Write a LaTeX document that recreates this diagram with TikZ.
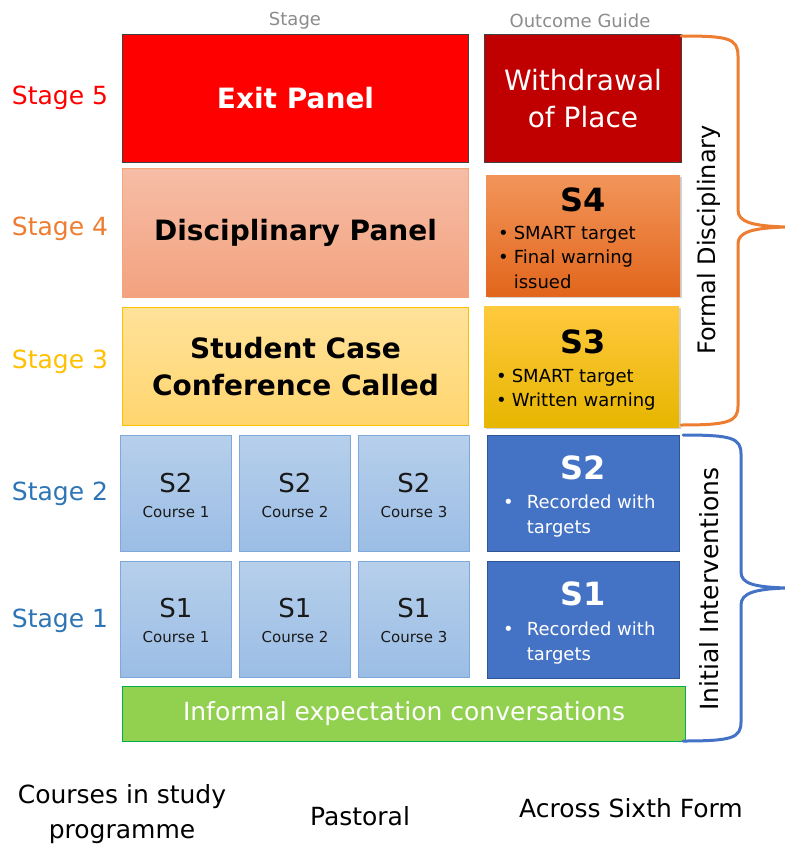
\documentclass[tikz,border=0pt]{standalone}
\usepackage{fontspec}
\setmainfont{DejaVu Sans}
\usetikzlibrary{shadows}
\definecolor{exitred}{HTML}{FF0000}
\definecolor{wdred}{HTML}{C00000}
\definecolor{st4}{HTML}{ED7D31}
\definecolor{st3}{HTML}{FFC000}
\definecolor{st2}{HTML}{2E75B6}
\definecolor{hdrgray}{HTML}{8C8C8C}
\definecolor{dpTop}{HTML}{F6BDA6}
\definecolor{dpBot}{HTML}{F3A27F}
\definecolor{dpBorder}{HTML}{F4A57A}
\definecolor{scTop}{HTML}{FFE29A}
\definecolor{scBot}{HTML}{FFD56E}
\definecolor{s4Top}{HTML}{F2955A}
\definecolor{s4Bot}{HTML}{E2661C}
\definecolor{s3Top}{HTML}{FFC93E}
\definecolor{s3Bot}{HTML}{E6B600}
\definecolor{cTop}{HTML}{B6CFEB}
\definecolor{cBot}{HTML}{9BBDE5}
\definecolor{cBorder}{HTML}{7EA9DA}
\definecolor{oblue}{HTML}{4472C4}
\definecolor{oblueB}{HTML}{2F5597}
\definecolor{grn}{HTML}{92D050}
\definecolor{grnB}{HTML}{00B050}
\definecolor{brOr}{HTML}{ED7D31}
\definecolor{brBl}{HTML}{4472C4}
\begin{document}
\begin{tikzpicture}[x=1pt,y=-1pt,
  box/.style={rectangle, inner sep=0pt, anchor=north west, align=center},
  stagelbl/.style={font=\fontsize{25}{30}\selectfont, inner sep=0pt},
  hdr/.style={font=\fontsize{18}{21}\selectfont, text=hdrgray, inner sep=0pt},
  bot/.style={font=\fontsize{25}{35}\selectfont, inner sep=0pt, align=center},
  boldbig/.style={font=\fontsize{28}{37}\selectfont\bfseries},
  course/.style={box, draw=cBorder, line width=1pt, top color=cTop, bottom color=cBot, minimum width=111pt, minimum height=116pt},
  cbig/.style={font=\fontsize{26}{30}\selectfont, inner sep=0pt, text=black!90},
  csmall/.style={font=\fontsize{15}{18}\selectfont, inner sep=0pt, text=black!90},
  otitle/.style={font=\fontsize{32}{36}\selectfont\bfseries, inner sep=0pt},
  obullet/.style={anchor=north west, inner sep=0pt, font=\fontsize{18}{24.5}\selectfont},
  shad/.style={drop shadow={opacity=0.35, shadow xshift=1.5pt, shadow yshift=-1.5pt}},
  brace/.style={line width=3pt, line cap=round}
]
\useasboundingbox[fill=white] (0,0) rectangle (784,845);

% headers
\node[hdr] (hstage) at (295,21) {Stage};
\node[hdr] (hout) at (580,21) {Outcome Guide};

% stage labels
\node[stagelbl, text=exitred] (st5) at (60,98) {Stage 5};
\node[stagelbl, text=st4] (st4l) at (60,229) {Stage 4};
\node[stagelbl, text=st3] (st3l) at (60,362) {Stage 3};
\node[stagelbl, text=st2] (st2l) at (60,494) {Stage 2};
\node[stagelbl, text=st2] (st1l) at (60,621) {Stage 1};

% stage 5
\node[box, draw=black!75, line width=1pt, fill=exitred, minimum width=346pt, minimum height=128pt, text=white, boldbig] (exit) at (122,34) {Exit Panel};
\node[box, draw=black!75, line width=1pt, fill=wdred, minimum width=197pt, minimum height=128pt, text=white, font=\fontsize{28}{37}\selectfont] (wd) at (484,34) {Withdrawal\\of Place};

% stage 4
\node[box, draw=dpBorder, line width=1pt, top color=dpTop, bottom color=dpBot, minimum width=346pt, minimum height=129pt, boldbig] (dp) at (122,168) {Disciplinary Panel};
\node[box, shad, top color=s4Top, bottom color=s4Bot, minimum width=194pt, minimum height=121pt] (s4) at (486,175) {};
\node[otitle] (s4t) at (583,200) {S4};
\node[obullet] (s4b) at (498,222) {\begin{tabular}{@{}l@{\hspace{5pt}}l@{}}•&SMART target\\•&Final warning\\&issued\end{tabular}};

% stage 3
\node[box, draw=st3, line width=1pt, top color=scTop, bottom color=scBot, minimum width=346pt, minimum height=118pt, boldbig] (sc) at (122,307) {Student Case\\Conference Called};
\node[box, shad, top color=s3Top, bottom color=s3Bot, minimum width=195pt, minimum height=121pt] (s3) at (484,306) {};
\node[otitle] (s3t) at (583,342) {S3};
\node[obullet] (s3b) at (496,365) {\begin{tabular}{@{}l@{\hspace{5pt}}l@{}}•&SMART target\\•&Written warning\end{tabular}};

% stage 2 and 1 course boxes
\foreach \i/\x in {1/120,2/239,3/358} {
  \node[course] (c2\i) at (\x,435) {};
  \node[cbig] (c2\i s) at ([yshift=-48pt]c2\i.north) {S2};
  \node[csmall] (c2\i c) at ([yshift=-77pt]c2\i.north) {Course \i};
  \node[course] (c1\i) at (\x,561) {};
  \node[cbig] (c1\i s) at ([yshift=-47pt]c1\i.north) {S1};
  \node[csmall] (c1\i c) at ([yshift=-76pt]c1\i.north) {Course \i};
}

% outcome S2 / S1
\node[box, draw=oblueB, line width=0.8pt, fill=oblue, minimum width=192pt, minimum height=116pt] (o2) at (487,435) {};
\node[otitle, text=white] (o2t) at (583,468) {S2};
\node[obullet, text=white, font=\fontsize{18}{25}\selectfont] (o2b) at (503,491) {\begin{tabular}{@{}l@{\hspace{13pt}}l@{}}•&Recorded with\\&targets\end{tabular}};
\node[box, draw=oblueB, line width=0.8pt, fill=oblue, minimum width=192pt, minimum height=117pt] (o1) at (487,561) {};
\node[otitle, text=white] (o1t) at (583,594) {S1};
\node[obullet, text=white, font=\fontsize{18}{25}\selectfont] (o1b) at (503,618) {\begin{tabular}{@{}l@{\hspace{13pt}}l@{}}•&Recorded with\\&targets\end{tabular}};

% informal bar
\node[box, draw=grnB, line width=1pt, fill=grn, minimum width=563pt, minimum height=55pt, text=white, font=\fontsize{25}{30}\selectfont] (inf) at (122,686) {Informal expectation conversations};

% braces
\draw[brace, draw=brOr] (681,36) .. controls (728,36) and (738,38) .. (738,56)
  -- (738,210) .. controls (738,222) and (752,226) .. (786,227)
  .. controls (752,228) and (738,232) .. (738,244)
  -- (738,406) .. controls (738,422) and (728,425) .. (681,425);
\draw[brace, draw=brBl] (683,435) .. controls (732,435) and (741,438) .. (741,454)
  -- (741,572) .. controls (741,584) and (755,587) .. (786,588)
  .. controls (755,589) and (741,593) .. (741,605)
  -- (741,722) .. controls (741,738) and (732,741) .. (683,741);

\node[rotate=90, inner sep=0pt, font=\fontsize{24}{29}\selectfont] (fd) at (709,240) {Formal Disciplinary};
\node[rotate=90, inner sep=0pt, font=\fontsize{25}{30}\selectfont] (ii) at (709,589) {Initial Interventions};

% bottom labels
\node[bot] (bcourses) at (122,814) {Courses in study\\programme};
\node[bot] (bpast) at (360,816) {Pastoral};
\node[bot] (bacross) at (631,808) {Across Sixth Form};
\end{tikzpicture}
\end{document}
